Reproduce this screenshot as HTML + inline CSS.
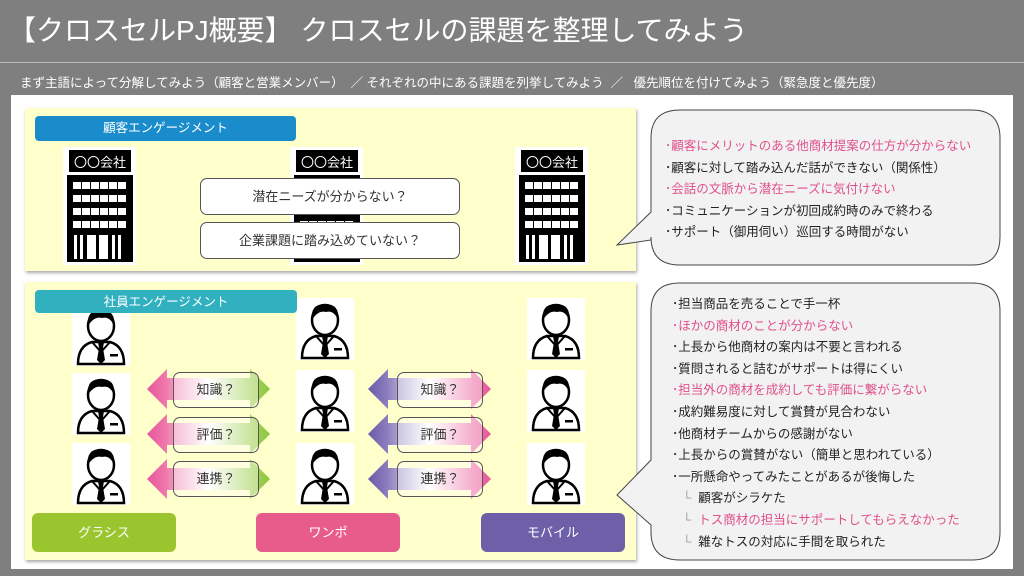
<!DOCTYPE html>
<html><head><meta charset="utf-8"><style>
*{margin:0;padding:0;box-sizing:border-box}
body{width:1024px;height:576px;overflow:hidden;background:#7f7f7f;font-family:"Liberation Sans","Noto Sans CJK JP",sans-serif;position:relative}
.a{position:absolute}
.title{left:8px;top:9px;color:#fff;font-size:28px;white-space:nowrap;letter-spacing:0px}
.sub{left:20px;top:72px;color:#fff;font-size:12.5px;white-space:nowrap}
.panel{background:#ffffcc;box-shadow:1px 2px 3px #aaa}
.lab{color:#fff;font-size:12.5px;text-align:center;border-radius:4px;line-height:24px}
.q{background:#fff;border:1px solid #555;border-radius:7px;font-size:13px;text-align:center;color:#333}
.btn{color:#fff;font-size:13px;text-align:center;border-radius:6px;line-height:39px}
.tx{font-size:12.5px;color:#222;white-space:nowrap;line-height:21.6px}
.pk{color:#e0508a}
</style></head><body>
<div class="a title">【クロスセルPJ概要】 クロスセルの課題を整理してみよう</div>
<div class="a" style="left:0;top:62px;width:1024px;height:1px;background:#bbb"></div>
<div class="a sub">まず主語によって分解してみよう（顧客と営業メンバー） &nbsp;／ それぞれの中にある課題を列挙してみよう &nbsp;／ &nbsp;&nbsp;優先順位を付けてみよう（緊急度と優先度）</div>
<div class="a" style="left:11px;top:95px;width:1002px;height:474px;background:#fff"></div>

<div class="a panel" style="left:25px;top:108px;width:611px;height:163px"></div>
<div class="a lab" style="left:35px;top:116px;width:261px;height:25px;background:#1a8ccc">顧客エンゲージメント</div>
<div class="a panel" style="left:25px;top:282px;width:611px;height:278px"></div>

<svg class="a" style="left:0;top:0" width="1024" height="576">
<defs>
<g id="bld">
<rect x="0" y="0" width="73" height="118" fill="#fff"/>
<rect x="6" y="3" width="62" height="22" fill="#000"/>
<rect x="4" y="28" width="66" height="87" fill="#000"/>
<g fill="#fff">
<rect x="10" y="35" width="8" height="7"/><rect x="19" y="35" width="8" height="7"/><rect x="28" y="35" width="8" height="7"/><rect x="37" y="35" width="8" height="7"/><rect x="46" y="35" width="8" height="7"/><rect x="55" y="35" width="8" height="7"/>
<rect x="10" y="48" width="8" height="7"/><rect x="19" y="48" width="8" height="7"/><rect x="28" y="48" width="8" height="7"/><rect x="37" y="48" width="8" height="7"/><rect x="46" y="48" width="8" height="7"/><rect x="55" y="48" width="8" height="7"/>
<rect x="10" y="61" width="8" height="7"/><rect x="19" y="61" width="8" height="7"/><rect x="28" y="61" width="8" height="7"/><rect x="37" y="61" width="8" height="7"/><rect x="46" y="61" width="8" height="7"/><rect x="55" y="61" width="8" height="7"/>
<rect x="10" y="74" width="8" height="7"/><rect x="19" y="74" width="8" height="7"/><rect x="28" y="74" width="8" height="7"/><rect x="37" y="74" width="8" height="7"/><rect x="46" y="74" width="8" height="7"/><rect x="55" y="74" width="8" height="7"/>
<rect x="11" y="88" width="3" height="24"/><rect x="17" y="88" width="3" height="24"/><rect x="24" y="88" width="9" height="24"/><rect x="36" y="88" width="9" height="24"/><rect x="49" y="88" width="3" height="24"/><rect x="55" y="88" width="3" height="24"/>
</g>
<text x="37" y="20" fill="#fff" font-size="13" text-anchor="middle" font-family="Liberation Sans,Noto Sans CJK JP,sans-serif">〇〇会社</text>
</g>
<g id="per">
<rect x="0" y="0" width="58" height="62" fill="#fff"/>
<path d="M6 60 Q6 42 20 38 L38 38 Q52 42 52 60 Z" fill="#fff" stroke="#000" stroke-width="2.5"/>
<path d="M26 38 L32 38 L31 44 L33 56 L29 60 L25 56 L27 44 Z" fill="#000"/>
<path d="M20 38 L29 48 L38 38" fill="none" stroke="#000" stroke-width="2"/>
<ellipse cx="29" cy="22" rx="13" ry="15" fill="#fff" stroke="#000" stroke-width="2.5"/>
<path d="M16 22 Q14 6 29 6 Q44 6 42 22 Q38 12 30 14 Q22 12 16 22Z" fill="#000"/>
<rect x="38" y="50" width="8" height="2.5" fill="#000"/>
</g>
<linearGradient id="g1" x1="0" x2="1"><stop offset="0" stop-color="#e8559a"/><stop offset=".15" stop-color="#ee78ac"/><stop offset=".5" stop-color="#fff"/><stop offset=".85" stop-color="#a6d25a"/><stop offset="1" stop-color="#8cc63f"/></linearGradient>
<linearGradient id="g2" x1="0" x2="1"><stop offset="0" stop-color="#6a5aa8"/><stop offset=".15" stop-color="#8a7cbd"/><stop offset=".5" stop-color="#fff"/><stop offset=".85" stop-color="#ee78ac"/><stop offset="1" stop-color="#e8559a"/></linearGradient>
<path id="arr" d="M0 0 L20 -20 L20 -11 L103 -11 L103 -20 L123 0 L103 20 L103 11 L20 11 L20 20 Z"/>
</defs>
<use href="#bld" x="63" y="147"/>
<use href="#bld" x="290" y="147"/>
<use href="#bld" x="515" y="147"/>
<g fill="url(#g1)"><use href="#arr" x="147" y="389"/><use href="#arr" x="147" y="434"/><use href="#arr" x="147" y="479"/></g>
<g fill="url(#g2)"><use href="#arr" x="368" y="389"/><use href="#arr" x="368" y="434"/><use href="#arr" x="368" y="479"/></g>
<use href="#per" x="72" y="304"/><use href="#per" x="72" y="373"/><use href="#per" x="72" y="443"/>
<use href="#per" x="296" y="298"/><use href="#per" x="296" y="370"/><use href="#per" x="296" y="443"/>
<use href="#per" x="527" y="298"/><use href="#per" x="527" y="370"/><use href="#per" x="527" y="443"/>
<path d="M680 110 H972 Q1000 110 1000 138 V237 Q1000 265 972 265 H680 Q651 265 651 237 V240 L617 245 L651 212 V138 Q651 110 680 110Z" fill="#f2f2f2" stroke="#444" stroke-width="1"/>
<path d="M680 283 H972 Q1000 283 1000 311 V532 Q1000 560 972 560 H680 Q651 560 651 532 V525 L617 495 L651 460 V311 Q651 283 680 283Z" fill="#f2f2f2" stroke="#444" stroke-width="1"/>
</svg>
<div class="a lab" style="left:35px;top:290px;width:262px;height:23px;background:#31b0c0">社員エンゲージメント</div>

<div class="a q" style="left:200px;top:178px;width:260px;height:37px;line-height:35px">潜在ニーズが分からない？</div>
<div class="a q" style="left:200px;top:222px;width:260px;height:37px;line-height:35px">企業課題に踏み込めていない？</div>

<div class="a q" style="left:173px;top:372px;width:86px;height:36px;line-height:34px;background:rgba(255,255,255,.4)">知識？</div>
<div class="a q" style="left:173px;top:417px;width:86px;height:36px;line-height:34px;background:rgba(255,255,255,.4)">評価？</div>
<div class="a q" style="left:173px;top:461px;width:86px;height:36px;line-height:34px;background:rgba(255,255,255,.4)">連携？</div>
<div class="a q" style="left:397px;top:372px;width:86px;height:36px;line-height:34px;background:rgba(255,255,255,.4)">知識？</div>
<div class="a q" style="left:397px;top:417px;width:86px;height:36px;line-height:34px;background:rgba(255,255,255,.4)">評価？</div>
<div class="a q" style="left:397px;top:461px;width:86px;height:36px;line-height:34px;background:rgba(255,255,255,.4)">連携？</div>

<div class="a btn" style="left:32px;top:513px;width:144px;height:39px;background:#9ac52e">グラシス</div>
<div class="a btn" style="left:256px;top:513px;width:144px;height:39px;background:#e85c8c">ワンポ</div>
<div class="a btn" style="left:481px;top:513px;width:144px;height:39px;background:#6d5fa8">モバイル</div>

<div class="a tx" style="left:665px;top:136px">
<div class="pk">･顧客にメリットのある他商材提案の仕方が分からない</div>
<div>･顧客に対して踏み込んだ話ができない（関係性）</div>
<div class="pk">･会話の文脈から潜在ニーズに気付けない</div>
<div>･コミュニケーションが初回成約時のみで終わる</div>
<div>･サポート（御用伺い）巡回する時間がない</div>
</div>
<div class="a tx" style="left:672px;top:294px">
<div>･担当商品を売ることで手一杯</div>
<div class="pk">･ほかの商材のことが分からない</div>
<div>･上長から他商材の案内は不要と言われる</div>
<div>･質問されると詰むがサポートは得にくい</div>
<div class="pk">･担当外の商材を成約しても評価に繋がらない</div>
<div>･成約難易度に対して賞賛が見合わない</div>
<div>･他商材チームからの感謝がない</div>
<div>･上長からの賞賛がない（簡単と思われている）</div>
<div>･一所懸命やってみたことがあるが後悔した</div>
<div>&nbsp;&nbsp;&nbsp;<span style="color:#999">└</span>&nbsp; 顧客がシラケた</div>
<div class="pk">&nbsp;&nbsp;&nbsp;<span style="color:#999">└</span>&nbsp; トス商材の担当にサポートしてもらえなかった</div>
<div>&nbsp;&nbsp;&nbsp;<span style="color:#999">└</span>&nbsp; 雑なトスの対応に手間を取られた</div>
</div>
</body></html>
